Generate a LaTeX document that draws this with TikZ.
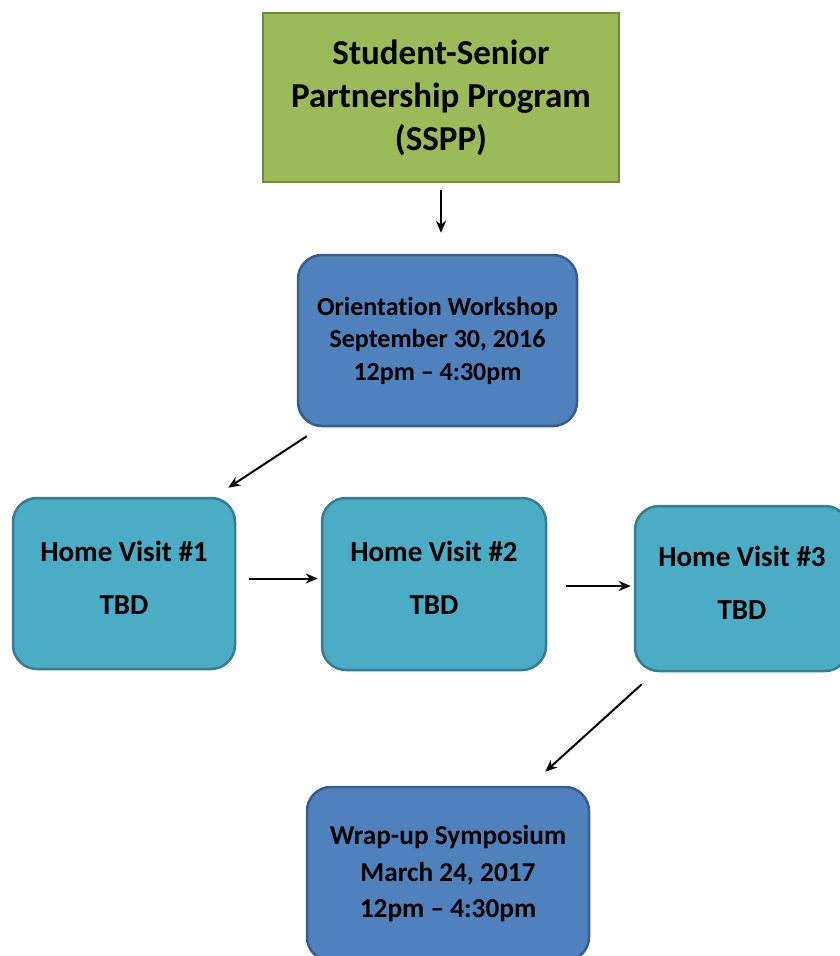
\documentclass[tikz,border=0pt]{standalone}
\usepackage{fontspec}
\setmainfont{Carlito}[Ligatures=NoCommon]
\usepackage{xcolor}
\definecolor{ssppgreen}{HTML}{9BBB59}
\definecolor{ssppgreenline}{HTML}{71893F}
\definecolor{eventblue}{HTML}{4F81BD}
\definecolor{eventblueline}{HTML}{385D8A}
\definecolor{visitteal}{HTML}{4BACC6}
\definecolor{visittealline}{HTML}{357D91}
\usepackage{tikz}
\usetikzlibrary{arrows.meta, positioning, calc}

\tikzset{
  titlebox/.style={draw=ssppgreenline, fill=ssppgreen, line width=2.5pt,
    align=center, font=\bfseries\fontsize{35}{43}\selectfont},
  eventbox/.style={draw=eventblueline, fill=eventblue, line width=2.5pt,
    rounded corners=24pt, align=center},
  visitbox/.style={draw=visittealline, fill=visitteal, line width=2.5pt,
    rounded corners=24pt},
  visitlabel/.style={align=center, yshift=6pt,
    font=\bfseries\fontsize{29}{53}\selectfont},
  flow/.style={-{Stealth[length=12pt, width=10pt]}, line width=2pt}
}

\begin{document}
\begin{tikzpicture}[x=1pt, y=-1pt]
        \useasboundingbox (0,0) rectangle (840,956);
        \clip (0,0) rectangle (840,956);
        % Program title
        \node[titlebox, minimum width=356pt, minimum height=169pt]
          (sspp) at (441, 97.5)
          {Student-Senior\\Partnership Program\\(SSPP)};
        % Workshops
        \node[eventbox, minimum width=279pt, minimum height=171pt,
          font=\bfseries\fontsize{26}{32.5}\selectfont]
          (orient) at (437.5, 340.5)
          {Orientation Workshop\\September 30, 2016\\12pm -- 4:30pm};
        \node[eventbox, minimum width=282pt, minimum height=174pt,
          font=\bfseries\fontsize{27.3}{36.5}\selectfont]
          (wrap) at (448, 874)
          {Wrap-up Symposium\\March 24, 2017\\12pm -- 4:30pm};
        % Home visits
        \node[visitbox, minimum width=222pt, minimum height=171pt,
          label={[visitlabel]center:Home Visit \#1\\TBD}]
          (hv1) at (124, 583.5) {};
        \node[visitbox, minimum width=224pt, minimum height=172pt,
          label={[visitlabel]center:Home Visit \#2\\TBD}]
          (hv2) at (434, 584) {};
        \node[visitbox, minimum width=214pt, minimum height=165pt,
          label={[visitlabel]center:Home Visit \#3\\TBD}]
          (hv3) at (742, 588.5) {};
        % Arrows
        \draw[flow, shorten <=7pt, shorten >=21pt]
          (sspp.south) -- (sspp.south |- orient.north);
        \draw[flow]
          ([xshift=10pt, yshift=-9pt]orient.south west)
          -- ([xshift=-8pt, yshift=9pt]hv1.north east);
        \draw[flow, shorten <=13pt, shorten >=3pt]
          ([yshift=5pt]hv1.east) -- ([yshift=5pt]hv1.east -| hv2.west);
        \draw[flow, shorten <=19pt, shorten >=3pt]
          ([yshift=-2pt]hv2.east) -- ([yshift=-2pt]hv2.east -| hv3.west);
        \draw[flow]
          ([xshift=8pt, yshift=-12pt]hv3.south west)
          -- ([xshift=-45pt, yshift=14pt]wrap.north east);
      \end{tikzpicture}
\end{document}
